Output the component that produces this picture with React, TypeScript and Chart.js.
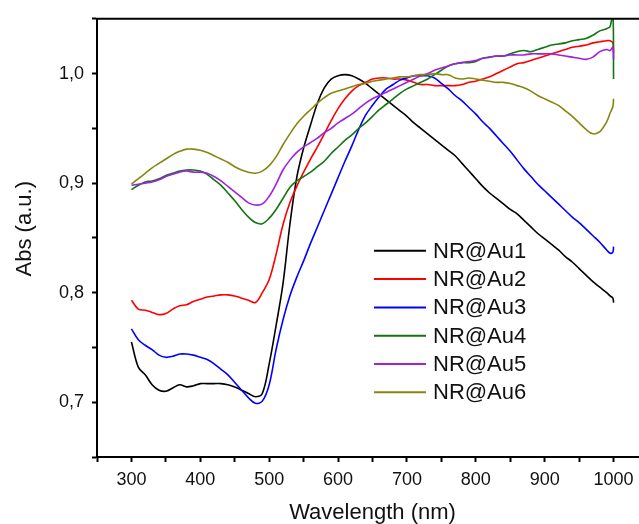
import React, { useEffect, useRef } from 'react';
import { Chart, registerables } from 'chart.js';

Chart.register(...registerables);

const wavelengths = [
  300, 310, 320, 330, 340, 350, 360, 370, 380, 390,
  400, 410, 420, 430, 440, 450, 460, 470, 480, 490,
  500, 510, 520, 530, 540, 550, 560, 570, 580, 590,
  600, 610, 620, 630, 640, 650, 660, 670, 680, 690,
  700, 710, 720, 730, 740, 750, 760, 770, 780, 790,
  800, 810, 820, 830, 840, 850, 860, 870, 880, 890,
  900, 910, 920, 930, 940, 950, 960, 970, 980, 990,
  995, 999, 1000,
];

const seriesNames = ['NR@Au1', 'NR@Au2', 'NR@Au3', 'NR@Au4', 'NR@Au5', 'NR@Au6'];
const seriesColors = ['#000000', '#ff0000', '#0000ff', '#117511', '#a020e0', '#868610'];

const au1 = [
  0.755, 0.732, 0.725, 0.716, 0.711, 0.710, 0.713, 0.716, 0.714, 0.715,
  0.717, 0.717, 0.717, 0.717, 0.716, 0.714, 0.711, 0.708, 0.705, 0.708,
  0.735, 0.770, 0.808, 0.862, 0.905, 0.932, 0.953, 0.973, 0.987, 0.995,
  0.998, 0.999, 0.998, 0.995, 0.991, 0.986, 0.981, 0.976, 0.971, 0.966,
  0.961, 0.955, 0.950, 0.945, 0.940, 0.935, 0.930, 0.925, 0.918, 0.911,
  0.904, 0.897, 0.891, 0.886, 0.881, 0.876, 0.872, 0.866, 0.860, 0.854,
  0.849, 0.844, 0.839, 0.833, 0.828, 0.822, 0.816, 0.810, 0.805, 0.800,
  0.797, 0.795, 0.791,
];
const au2 = [
  0.793, 0.785, 0.784, 0.782, 0.780, 0.781, 0.785, 0.788, 0.789, 0.792,
  0.794, 0.796, 0.797, 0.798, 0.798, 0.797, 0.795, 0.793, 0.791, 0.800,
  0.812, 0.835, 0.862, 0.882, 0.897, 0.910, 0.922, 0.933, 0.945, 0.957,
  0.968, 0.977, 0.984, 0.989, 0.992, 0.995, 0.996, 0.996, 0.995, 0.995,
  0.994, 0.992, 0.990, 0.990, 0.989, 0.989, 0.989, 0.989, 0.990, 0.992,
  0.993, 0.995, 0.997, 1.000, 1.003, 1.006, 1.009, 1.010, 1.012, 1.014,
  1.016, 1.018, 1.020, 1.022, 1.024, 1.025, 1.026, 1.028, 1.029, 1.030,
  1.030, 1.028, 1.019,
];
const au3 = [
  0.767, 0.757, 0.752, 0.748, 0.743, 0.741, 0.742, 0.744, 0.744, 0.743,
  0.741, 0.739, 0.735, 0.730, 0.725, 0.718, 0.711, 0.704, 0.699, 0.701,
  0.716, 0.748, 0.775, 0.797, 0.814, 0.829, 0.845, 0.860, 0.875, 0.890,
  0.905, 0.920, 0.934, 0.949, 0.962, 0.971, 0.979, 0.986, 0.990, 0.994,
  0.996, 0.998, 0.998, 0.998, 0.996, 0.991, 0.986, 0.980, 0.975, 0.969,
  0.963, 0.956, 0.950, 0.943, 0.936, 0.929, 0.921, 0.913, 0.906, 0.899,
  0.893, 0.887, 0.881, 0.875, 0.869, 0.864, 0.858, 0.852, 0.846, 0.839,
  0.836, 0.837, 0.842,
];
const au4 = [
  0.894, 0.898, 0.901, 0.902, 0.904, 0.907, 0.909, 0.911, 0.912, 0.912,
  0.911, 0.908, 0.903, 0.898, 0.891, 0.884, 0.876, 0.869, 0.864, 0.863,
  0.868, 0.876, 0.886, 0.896, 0.902, 0.906, 0.910, 0.915, 0.920, 0.927,
  0.933, 0.939, 0.944, 0.950, 0.955, 0.961, 0.967, 0.972, 0.977, 0.982,
  0.986, 0.989, 0.992, 0.995, 0.999, 1.003, 1.007, 1.009, 1.010, 1.010,
  1.011, 1.014, 1.015, 1.016, 1.016, 1.018, 1.020, 1.021, 1.020, 1.022,
  1.024, 1.026, 1.027, 1.028, 1.030, 1.031, 1.032, 1.035, 1.039, 1.041,
  1.043, 1.056, 0.995,
];
const au5 = [
  0.898, 0.899, 0.900, 0.901, 0.903, 0.906, 0.908, 0.910, 0.911, 0.910,
  0.910, 0.909, 0.906, 0.902, 0.897, 0.892, 0.887, 0.882, 0.880, 0.881,
  0.888, 0.899, 0.912, 0.921, 0.928, 0.933, 0.937, 0.941, 0.946, 0.950,
  0.955, 0.959, 0.963, 0.968, 0.973, 0.977, 0.980, 0.983, 0.986, 0.989,
  0.992, 0.995, 0.998, 1.000, 1.003, 1.005, 1.007, 1.009, 1.010, 1.011,
  1.012, 1.014, 1.015, 1.016, 1.016, 1.017, 1.017, 1.017, 1.018, 1.018,
  1.018, 1.018, 1.017, 1.016, 1.015, 1.014, 1.013, 1.015, 1.020, 1.022,
  1.021, 1.024, 1.013,
];
const au6 = [
  0.899, 0.904, 0.909, 0.914, 0.918, 0.922, 0.926, 0.929, 0.931, 0.931,
  0.930, 0.928, 0.925, 0.922, 0.919, 0.915, 0.912, 0.910, 0.909, 0.911,
  0.916, 0.924, 0.935, 0.945, 0.954, 0.961, 0.967, 0.973, 0.978, 0.982,
  0.984, 0.986, 0.988, 0.990, 0.991, 0.993, 0.994, 0.995, 0.996, 0.997,
  0.997, 0.998, 0.999, 0.999, 1.000, 0.999, 0.999, 0.996, 0.995, 0.996,
  0.995, 0.994, 0.993, 0.992, 0.992, 0.991, 0.989, 0.987, 0.984, 0.980,
  0.977, 0.974, 0.971, 0.966, 0.961, 0.955, 0.949, 0.945, 0.947, 0.956,
  0.964, 0.970, 0.977,
];

const seriesValues = [au1, au2, au3, au4, au5, au6];

const FONT = "'Liberation Sans', Arial, Helvetica, sans-serif";
const TEXT = '#111111';

const frameTop = {
  id: 'frameTop',
  afterDraw(chart: any) {
    const { ctx, chartArea } = chart;
    ctx.save();
    ctx.strokeStyle = '#000';
    ctx.lineWidth = 2;
    ctx.beginPath();
    ctx.moveTo(chartArea.left - 1, chartArea.top);
    ctx.lineTo(chartArea.right + 1, chartArea.top);
    ctx.stroke();
    ctx.restore();
  },
};

const customLegend = {
  id: 'customLegend',
  afterDatasetsDraw(chart: any) {
    const { ctx, chartArea } = chart;
    const x0 = chartArea.left + 277;
    const y0 = chartArea.top + 232;
    ctx.save();
    ctx.font = `22px ${FONT}`;
    ctx.textBaseline = 'middle';
    ctx.textAlign = 'left';
    chart.data.datasets.forEach((ds: any, i: number) => {
      const y = y0 + i * 28.3;
      ctx.strokeStyle = ds.borderColor;
      ctx.lineWidth = 2;
      ctx.beginPath();
      ctx.moveTo(x0, y);
      ctx.lineTo(x0 + 52, y);
      ctx.stroke();
      ctx.fillStyle = TEXT;
      ctx.fillText(ds.label, x0 + 59, y + 1);
    });
    ctx.restore();
  },
};

export default function App() {
  const ref = useRef<HTMLCanvasElement>(null);

  useEffect(() => {
    document.body.style.margin = '0';
    const canvas = ref.current!;
    const datasets = seriesNames.map((name, i) => ({
      label: name,
      data: wavelengths.map((w, j) => ({ x: w, y: seriesValues[i][j] })),
      borderColor: seriesColors[i],
      backgroundColor: seriesColors[i],
      borderWidth: 1.6,
      pointRadius: 0,
      tension: 0.35,
      fill: false,
      order: seriesNames.length - i,
    }));

    const chart = new Chart(canvas, {
      type: 'line',
      data: { datasets },
      plugins: [frameTop, customLegend],
      options: {
        responsive: false,
        animation: false,
        devicePixelRatio: 1,
        layout: { padding: { left: 0, right: 0, top: 13, bottom: 0 } },
        plugins: {
          legend: { display: false },
          tooltip: { enabled: false },
        },
        scales: {
          x: {
            type: 'linear',
            min: 250,
            max: 1050,
            afterFit: (s: any) => { s.height = 67; },
            afterBuildTicks: (s: any) => {
              const t = [];
              for (let v = 250; v <= 1050; v += 50) t.push({ value: v });
              s.ticks = t;
            },
            border: { display: true, color: '#000', width: 2 },
            grid: {
              display: true,
              drawOnChartArea: false,
              drawTicks: true,
              tickLength: 5,
              tickWidth: 2,
              tickColor: '#000',
            },
            ticks: {
              autoSkip: false,
              maxRotation: 0,
              padding: 7,
              color: TEXT,
              font: { family: FONT, size: 18 },
              callback: (v: any) => {
                const n = Math.round(Number(v));
                return n % 100 === 0 && n >= 300 && n <= 1000 ? String(n) : '';
              },
            },
            title: {
              display: true,
              text: 'Wavelength (nm)',
              color: TEXT,
              font: { family: FONT, size: 22 },
              padding: { top: 0, bottom: -2 },
            },
          },
          y: {
            type: 'linear',
            min: 0.65,
            max: 1.05,
            afterFit: (s: any) => { s.width = 97; },
            afterBuildTicks: (s: any) => {
              const t = [];
              for (let k = 13; k <= 21; k++) t.push({ value: k * 0.05 });
              s.ticks = t;
            },
            border: { display: true, color: '#000', width: 2 },
            grid: {
              display: true,
              drawOnChartArea: false,
              drawTicks: true,
              tickLength: 5,
              tickWidth: 2,
              tickColor: '#000',
            },
            ticks: {
              autoSkip: false,
              padding: 8,
              color: TEXT,
              font: { family: FONT, size: 18 },
              callback: (v: any) => {
                const n = Math.round(Number(v) * 100);
                return n % 10 === 0 && n >= 70 && n <= 100 ? (n / 100).toFixed(1).replace('.', ',') : '';
              },
            },
            title: {
              display: true,
              text: '   Abs (a.u.)',
              color: TEXT,
              font: { family: FONT, size: 22 },
              padding: { top: 12, bottom: 0 },
            },
          },
        },
      },
    } as any);
    return () => chart.destroy();
  }, []);

  return (
    <div style={{ position: 'fixed', left: 0, top: 0, width: 639, height: 524, background: '#fff', overflow: 'hidden' }}>
      <canvas ref={ref} width={655} height={524} style={{ width: 655, height: 524, display: 'block' }} />
    </div>
  );
}
